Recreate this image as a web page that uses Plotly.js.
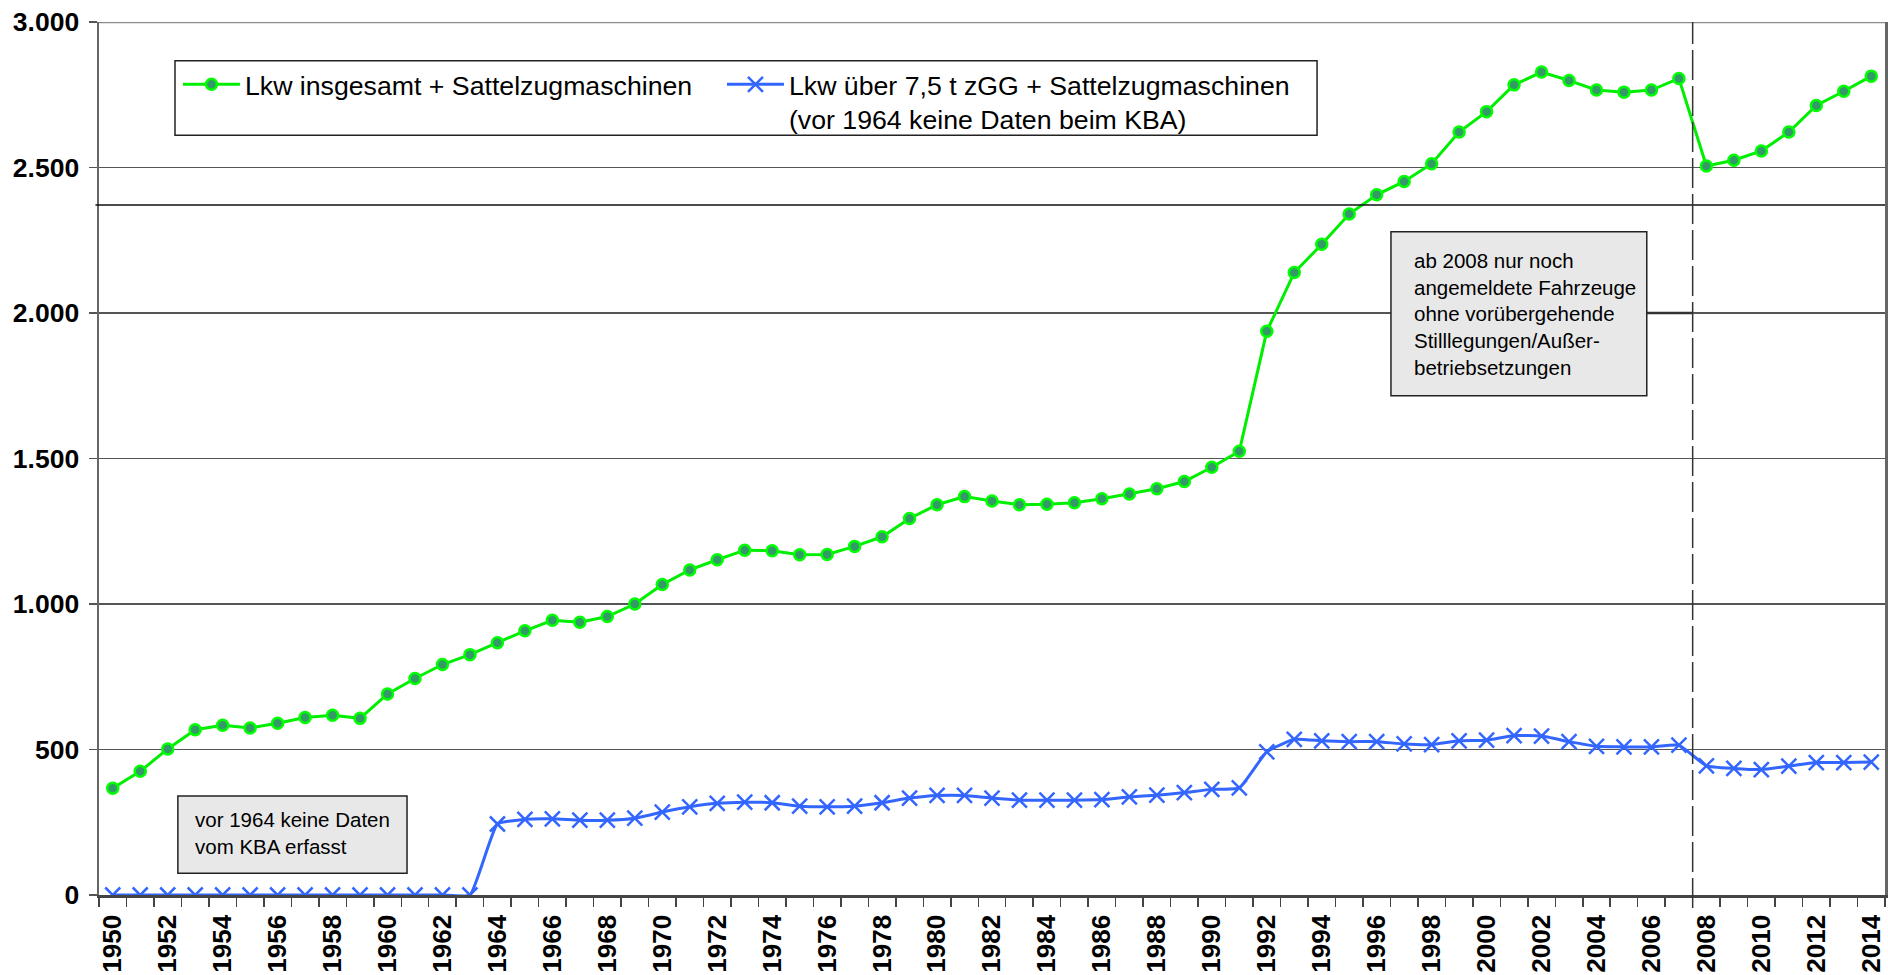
<!DOCTYPE html>
<html>
<head>
<meta charset="utf-8">
<script src="https://cdn.plot.ly/plotly-3.0.1.min.js"></script>
<style>
  html, body { margin: 0; padding: 0; background: #ffffff; }
  #chart { width: 1888px; height: 975px; }
</style>
</head>
<body>
<div id="chart"></div>
<script>
// ---- data (in thousands) ----
var years = [1950,1951,1952,1953,1954,1955,1956,1957,1958,1959,
             1960,1961,1962,1963,1964,1965,1966,1967,1968,1969,
             1970,1971,1972,1973,1974,1975,1976,1977,1978,1979,
             1980,1981,1982,1983,1984,1985,1986,1987,1988,1989,
             1990,1991,1992,1993,1994,1995,1996,1997,1998,1999,
             2000,2001,2002,2003,2004,2005,2006,2007,2008,2009,
             2010,2011,2012,2013,2014];

var lkwInsgesamt = [367,425,502,568,583,574,590,610,618,607,
                    691,744,792,826,867,908,944,937,957,1000,
                    1067,1117,1152,1185,1183,1169,1170,1198,1231,1294,
                    1341,1369,1354,1341,1343,1348,1362,1378,1396,1421,
                    1470,1525,1937,2139,2236,2340,2406,2452,2513,2622,
                    2692,2784,2828,2799,2766,2759,2766,2806,2505,2525,
                    2557,2622,2713,2762,2814];

var lkwUeber75t = [0,0,0,0,0,0,0,0,0,0,
                   0,0,0,0,244,260,262,257,257,264,
                   285,303,315,319,317,305,303,305,317,333,
                   342,342,333,326,326,326,328,337,343,352,
                   363,368,492,535,530,527,527,519,517,530,
                   532,548,546,527,511,509,509,515,444,435,
                   431,443,455,455,457];

var seriesNames = [
  'Lkw insgesamt + Sattelzugmaschinen',
  'Lkw über 7,5 t zGG + Sattelzugmaschinen<br>(vor 1964 keine Daten beim KBA)'
];

var xTickVals = [1950,1952,1954,1956,1958,1960,1962,1964,1966,1968,1970,1972,1974,1976,1978,1980,1982,1984,1986,1988,1990,1992,1994,1996,1998,2000,2002,2004,2006,2008,2010,2012,2014];
var xTickText = xTickVals.map(String);
var yTickVals = [0,500,1000,1500,2000,2500,3000];

var noteBreak = 'ab 2008 nur noch<br>angemeldete Fahrzeuge<br>ohne vorübergehende<br>Stilllegungen/Außer-<br>betriebsetzungen';
var noteNoData = 'vor 1964 keine Daten<br>vom KBA erfasst';
var breakYear = 2007.5;

// ---- traces ----
var FONT = 'Liberation Sans, Arial, Helvetica, sans-serif';

var traces = [
  {
    type: 'scatter', mode: 'lines+markers',
    name: seriesNames[0], legend: 'legend',
    x: years, y: lkwInsgesamt,
    line: { color: '#00EE00', width: 3 },
    marker: { symbol: 'circle', size: 11, color: '#339966',
              line: { color: '#00FF00', width: 2.5 } }
  },
  {
    type: 'scatter', mode: 'lines+markers',
    name: seriesNames[1], legend: 'legend2',
    x: years, y: lkwUeber75t,
    line: { color: '#3366FF', width: 3, shape: 'spline', smoothing: 0.4 },
    marker: { symbol: 'x-thin-open', size: 15, color: '#3366FF',
              line: { color: '#3366FF', width: 2.5 } }
  }
];

var legendCommon = {
  orientation: 'v',
  y: 0.956, xanchor: 'left', yanchor: 'top',
  bgcolor: 'rgba(0,0,0,0)', borderwidth: 0,
  font: { family: FONT, size: 26.7, color: '#000000' },
  valign: 'top',
  itemwidth: 57
};

var layout = {
  width: 1888, height: 975,
  margin: { l: 99, r: 3, t: 22, b: 80, pad: 0 },
  paper_bgcolor: '#ffffff', plot_bgcolor: '#ffffff',
  font: { family: FONT, color: '#000000' },
  separators: ',.',
  showlegend: true,
  legend: Object.assign({}, legendCommon, { x: 0.0442 }),
  legend2: Object.assign({}, legendCommon, { x: 0.3488 }),
  xaxis: {
    type: 'linear',
    range: [1949.5, 2014.5],
    tickmode: 'array', tickvals: xTickVals, ticktext: xTickText,
    tickangle: -90,
    ticks: 'outside', ticklen: 0,
    ticklabelstandoff: 7,
    tickfont: { family: FONT, size: 26, color: '#000000', weight: 'bold' },
    showgrid: false, zeroline: false,
    showline: true, linecolor: '#444444', linewidth: 2.5,
    minor: { tick0: 1949.5, dtick: 1, ticks: 'outside', ticklen: 9,
             tickcolor: '#444444', tickwidth: 1.5, showgrid: false },
    automargin: false, fixedrange: true
  },
  yaxis: {
    range: [0, 3000],
    tickmode: 'array', tickvals: yTickVals,
    tickformat: ',d',
    ticks: 'outside', ticklen: 8, tickcolor: '#555555', tickwidth: 1.5,
    ticklabelstandoff: 4,
    tickfont: { family: FONT, size: 26.5, color: '#000000', weight: 'bold' },
    showgrid: true, gridcolor: '#555555', gridwidth: 1.2,
    zeroline: false,
    showline: true, linecolor: '#666666', linewidth: 2.5, mirror: true,
    automargin: false, fixedrange: true
  },
  shapes: [
    // top frame line
    { type: 'line', xref: 'paper', yref: 'y', x0: 0, x1: 1, y0: 3000, y1: 3000,
      line: { color: '#8c8c8c', width: 2.5 } },
    // stray horizontal line seen in the reference
    { type: 'line', xref: 'paper', yref: 'y', x0: -0.002, x1: 1, y0: 2371, y1: 2371,
      line: { color: '#111111', width: 1.5 } },
    // 2008 break line
    { type: 'line', xref: 'x', yref: 'paper', x0: breakYear, x1: breakYear, y0: -0.015, y1: 1,
      line: { color: '#333333', width: 1.5, dash: '30px,6px' } },
    // connector from note box to break line
    { type: 'line', xref: 'x', yref: 'y', x0: 2005.83, x1: breakYear, y0: 2000, y1: 2000,
      line: { color: '#333333', width: 2.5 } },
    // legend frame
    { type: 'rect', xref: 'paper', yref: 'paper', x0: 0.04255, x1: 0.682, y0: 0.8703, y1: 0.9556,
      fillcolor: '#ffffff', line: { color: '#222222', width: 1.5 }, layer: 'above' },
    // note box (2008)
    { type: 'rect', xref: 'x', yref: 'y', x0: 1996.52, x1: 2005.83, y0: 1716, y1: 2279,
      fillcolor: '#e8e8e8', line: { color: '#222222', width: 1.5 }, layer: 'above' },
    // note box (before 1964)
    { type: 'rect', xref: 'x', yref: 'y', x0: 1952.37, x1: 1960.71, y0: 75, y1: 340,
      fillcolor: '#e8e8e8', line: { color: '#222222', width: 1.5 }, layer: 'above' }
  ],
  annotations: [
    { xref: 'x', yref: 'y', x: 1997.28, y: 1997, xanchor: 'left', yanchor: 'middle',
      text: noteBreak, showarrow: false, align: 'left',
      font: { family: FONT, size: 20.5, color: '#000000' } },
    { xref: 'x', yref: 'y', x: 1952.92, y: 213, xanchor: 'left', yanchor: 'middle',
      text: noteNoData, showarrow: false, align: 'left',
      font: { family: FONT, size: 20.5, color: '#000000' } }
  ]
};

Plotly.newPlot('chart', traces, layout, { displayModeBar: false, staticPlot: true });
</script>
</body>
</html>
